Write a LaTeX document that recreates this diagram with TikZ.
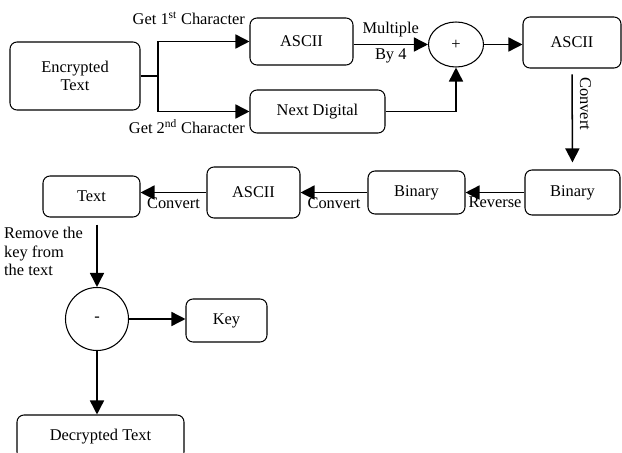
\documentclass[tikz,border=0pt]{standalone}
\usepackage{fontspec}
\setmainfont{Liberation Serif}
\usetikzlibrary{arrows.meta, shapes.geometric}

\tikzset{
  box/.style={draw, rounded corners=6pt, line width=0.9pt, inner sep=0pt, align=center},
  ring/.style={draw, ellipse, line width=0.9pt, inner sep=0pt},
  flow/.style={->, line width=1.3pt}
}

\begin{document}
\begin{tikzpicture}[x=0.03cm, y=-0.03cm, every node/.style={font=\fontsize{14}{16}\selectfont}, >={Triangle[length=12pt,width=12pt]}]
  \useasboundingbox (0,0) rectangle (622,453);

  \node[box, minimum width=3.9cm, minimum height=2.04cm] (enc) at (75,76) {Encrypted\\Text};
  \node[box, minimum width=3.09cm, minimum height=1.41cm] (ascA) at (301.5,41.5) {ASCII};
  \node[box, minimum width=4.05cm, minimum height=1.29cm] (nxt) at (317.5,111.5) {Next Digital};
  \node[ring, minimum width=1.65cm, minimum height=1.35cm] (plus) at (456,44.5) {+};
  \node[box, minimum width=2.94cm, minimum height=1.53cm] (ascB) at (572,42.5) {ASCII};
  \node[box, minimum width=2.85cm, minimum height=1.35cm] (binR) at (572.5,192.5) {Binary};
  \node[box, minimum width=2.91cm, minimum height=1.29cm] (binM) at (416.5,192.5) {Binary};
  \node[box, minimum width=2.79cm, minimum height=1.53cm] (ascC) at (253.5,192.5) {ASCII};
  \node[box, minimum width=2.91cm, minimum height=1.23cm] (txt) at (91.5,196.5) {Text};
  \node[ring, minimum width=1.89cm, minimum height=1.89cm] (minus) at (97,319) {-};
  \node[box, minimum width=2.43cm, minimum height=1.29cm] (key) at (226.5,320.5) {Key};
  \node[box, minimum width=5.01cm, minimum height=1.32cm] (dec) at (100.5,437) {Decrypted Text};

  \coordinate (split) at (158,76);

  % splitting the encrypted text
  \draw[line width=1.3pt] (enc.east) -- (split);
  \draw[flow] (split) |- node[pos=1, anchor=south east, yshift=10pt] {Get 1\textsuperscript{st} Character} (ascA.west);
  \draw[flow] (split) |- node[pos=1, anchor=north east, yshift=-3pt] {Get 2\textsuperscript{nd} Character} (nxt.west);

  \draw[flow] (ascA.east |- plus.west) -- node[above, yshift=2pt] {Multiple} node[below] {By 4} (plus.west);
  \draw[flow] (nxt.east) -| (plus.south);
  \draw[flow] (plus.east) -- (plus.east -| ascB.west);
  \draw[flow, shorten <=5pt, shorten >=6pt] (ascB.south) -- node[pos=0.35, anchor=south, rotate=-90, inner sep=6pt] {Convert} (binR.north);

  % back along the second row
  \draw[flow] (binR.west) -- node[below] {Reverse} (binM.east);
  \draw[flow] (binM.west) -- node[below] {Convert} (ascC.east);
  \draw[flow] (ascC.west) -- node[below] {Convert} (ascC.west -| txt.east);

  \draw[flow, shorten <=6pt] (txt.south -| minus.north) -- node[pos=0, anchor=north east, align=left, xshift=-8pt, yshift=-4pt] {Remove the\\key from\\the text} (minus.north);
  \draw[flow] (minus.east) -- (minus.east -| key.west);
  \draw[flow] (minus.south) -- (minus.south |- dec.north);
\end{tikzpicture}
\end{document}
